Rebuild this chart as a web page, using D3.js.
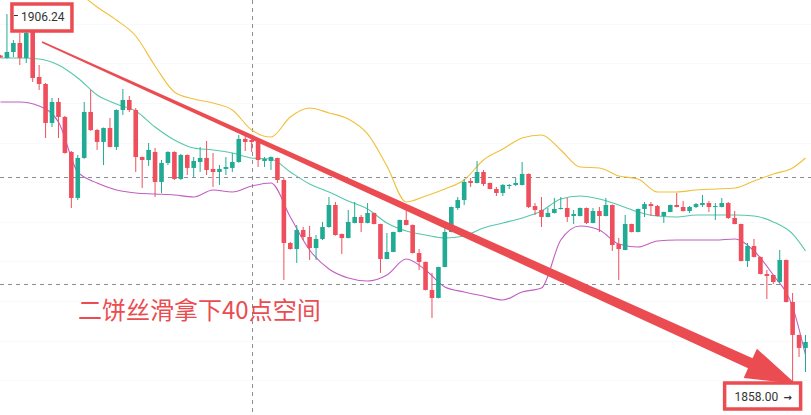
<!DOCTYPE html>
<html>
<head>
<meta charset="utf-8">
<script src="https://cdn.jsdelivr.net/npm/d3@7"></script>
<style>
  html, body { margin: 0; padding: 0; background: #fff; }
  #chart { width: 811px; height: 415px; overflow: hidden; }
</style>
</head>
<body>
<div id="chart"></div>
<script>
const width = 811;
const height = 415;

// OHLC, one entry per candle
const opens = [1901.00,1900.69,1901.44,1902.58,1900.69,1904.22,1898.29,1897.40,1892.48,1895.13,
  1893.24,1888.82,1883.01,1888.06,1893.87,1891.59,1890.08,1891.85,1889.45,1894.12,
  1895.38,1894.12,1888.18,1887.80,1888.82,1885.03,1887.43,1888.82,1885.41,1888.44,
  1886.80,1887.55,1888.06,1886.67,1886.29,1886.67,1886.80,1887.55,1890.46,1890.33,
  1890.08,1887.68,1887.68,1888.06,1885.28,1877.32,1876.56,1878.96,1878.08,1876.69,
  1877.83,1879.34,1882.12,1878.46,1877.95,1879.85,1880.61,1879.85,1881.11,1879.72,
  1875.30,1876.19,1878.71,1880.23,1879.60,1876.06,1874.93,1871.39,1870.38,1874.29,
  1878.71,1881.74,1882.75,1885.15,1884.90,1886.29,1884.90,1884.14,1883.64,1884.52,
  1884.65,1884.65,1886.04,1881.99,1881.49,1880.61,1881.11,1881.62,1881.74,1880.73,
  1880.73,1881.74,1879.85,1881.36,1880.73,1882.12,1877.19,1876.44,1879.72,1878.71,
  1881.62,1882.24,1881.99,1880.73,1881.24,1882.12,1881.87,1881.36,1881.87,1882.12,
  1882.37,1881.87,1881.87,1882.37,1880.48,1879.72,1875.05,1876.94,1875.56,1873.41,
  1873.28,1872.40,1875.18,1869.87,1865.71,1864.07];
const highs = [1901.07,1906.24,1902.96,1903.84,1905.23,1904.47,1899.80,1897.53,1895.64,1895.64,
  1893.36,1888.94,1888.44,1895.13,1896.64,1891.72,1891.90,1893.11,1894.20,1896.77,
  1895.89,1894.37,1888.25,1889.95,1889.32,1887.80,1888.90,1888.90,1888.57,1888.50,
  1888.18,1889.45,1890.21,1888.69,1887.17,1888.18,1888.69,1890.96,1890.83,1890.71,
  1890.15,1888.18,1888.25,1888.10,1885.53,1877.45,1879.60,1879.34,1879.47,1878.33,
  1879.98,1883.13,1882.50,1878.50,1881.49,1882.50,1880.86,1882.37,1881.15,1879.76,
  1878.59,1878.75,1880.27,1881.74,1879.65,1876.56,1874.98,1873.54,1874.33,1879.34,
  1881.92,1883.13,1885.41,1885.53,1887.68,1886.54,1884.95,1884.40,1884.77,1884.77,
  1885.53,1887.55,1886.10,1882.37,1883.13,1881.74,1883.01,1883.13,1883.01,1881.49,
  1881.80,1881.80,1881.74,1881.87,1883.01,1882.17,1877.95,1880.86,1879.76,1881.66,
  1882.50,1882.50,1882.12,1881.28,1882.17,1883.64,1882.63,1881.99,1882.37,1883.39,
  1882.63,1882.37,1883.01,1882.50,1881.36,1879.76,1877.32,1877.83,1875.60,1873.91,
  1873.33,1876.44,1875.22,1871.01,1865.75,1865.71];
const lows = [1900.69,1900.60,1900.81,1899.80,1900.05,1897.66,1896.64,1890.58,1891.97,1890.58,
  1888.60,1881.74,1882.75,1887.95,1891.47,1889.07,1887.17,1889.40,1889.07,1893.49,
  1893.87,1886.29,1884.27,1887.05,1883.13,1883.64,1887.17,1885.28,1885.28,1885.91,
  1885.66,1886.29,1885.91,1884.40,1884.65,1885.91,1886.29,1887.45,1888.94,1888.82,
  1886.92,1886.92,1886.54,1884.90,1872.65,1876.50,1874.80,1877.70,1875.18,1875.18,
  1877.70,1879.25,1878.25,1875.94,1877.90,1879.80,1878.71,1879.80,1879.68,1873.54,
  1875.25,1876.15,1878.66,1879.55,1876.00,1873.91,1871.33,1867.85,1870.33,1874.25,
  1878.66,1881.49,1882.12,1884.40,1884.85,1884.52,1884.10,1883.26,1883.26,1884.14,
  1884.52,1884.60,1881.74,1880.86,1879.34,1880.55,1881.05,1881.55,1879.98,1879.72,
  1880.68,1879.72,1879.80,1878.71,1880.68,1876.31,1872.65,1876.40,1878.66,1878.66,
  1880.61,1880.73,1880.68,1879.85,1881.20,1881.82,1881.30,1881.11,1881.74,1881.87,
  1881.24,1880.23,1881.82,1880.35,1879.68,1875.00,1874.29,1875.50,1873.36,1870.25,
  1872.15,1872.27,1869.82,1858.00,1862.93,1861.03];
const closes = [1900.75,1901.44,1902.58,1900.69,1903.84,1898.16,1897.40,1892.48,1895.13,1893.24,
  1888.69,1883.01,1888.06,1893.87,1891.59,1890.08,1891.85,1889.45,1894.12,1895.38,
  1894.12,1888.18,1887.80,1889.07,1885.03,1887.43,1888.82,1885.41,1888.44,1886.80,
  1887.68,1888.06,1886.54,1886.29,1886.67,1886.92,1887.55,1890.46,1890.08,1890.08,
  1887.80,1887.93,1888.18,1885.28,1877.32,1876.56,1878.96,1878.08,1876.69,1877.83,
  1879.34,1882.12,1878.33,1877.95,1879.98,1880.61,1879.85,1881.11,1879.72,1875.30,
  1876.19,1878.71,1880.23,1879.60,1876.06,1874.93,1871.39,1870.38,1874.29,1878.71,
  1881.87,1882.75,1885.03,1884.90,1886.29,1884.77,1884.14,1883.64,1884.65,1884.65,
  1884.90,1886.04,1881.87,1881.49,1880.61,1881.11,1881.62,1881.74,1880.61,1880.98,
  1881.74,1879.85,1881.36,1880.73,1882.12,1877.07,1876.56,1879.72,1878.71,1881.62,
  1882.24,1881.99,1880.73,1881.24,1882.12,1881.87,1881.36,1881.87,1882.24,1882.37,
  1881.87,1881.99,1882.37,1880.48,1879.72,1875.05,1876.94,1875.56,1873.41,1873.16,
  1872.40,1875.18,1869.87,1865.71,1864.07,1864.82];

// Bollinger bands, sampled every 3 candles
const bandIdx = [0,3,6,9,12,15,18,21,24,27,30,33,36,39,42,45,48,51,54,57,60,63,66,69,72,
  75,78,81,84,87,90,93,96,99,102,105,108,111,114,117,120,123,125];
const upperBand = [null,null,null,null,1909.02,1907.13,1905.48,1903.46,1899.68,1896.39,1895.51,1895.00,
  1894.12,1891.59,1890.71,1893.24,1894.37,1893.74,1892.98,1891.09,1887.05,1882.50,1883.26,1884.14,
  1885.28,1887.80,1889.19,1890.58,1890.96,1889.07,1886.92,1886.80,1885.78,1885.41,1883.76,1883.76,
  1884.02,1884.14,1884.27,1885.15,1886.04,1886.80,1888.06];
const middleBand = [1900.69,1900.69,1900.56,1899.80,1898.16,1896.01,1894.88,1893.99,1891.97,1890.33,
  1889.32,1889.07,1888.69,1888.06,1887.93,1886.29,1884.77,1883.76,1882.63,1881.62,1879.85,1878.84,
  1878.33,1877.95,1878.21,1879.22,1879.85,1880.48,1881.36,1882.88,1883.26,1882.88,1882.12,1881.24,
  1880.73,1880.61,1880.86,1880.86,1880.86,1880.73,1879.98,1878.46,1876.31];
const lowerBand = [1895.13,1895.13,1894.62,1892.60,1886.29,1884.90,1884.02,1883.64,1883.51,1883.39,
  1883.13,1884.02,1883.76,1884.52,1884.90,1880.61,1876.44,1874.04,1872.90,1872.52,1873.28,1875.30,
  1873.91,1871.77,1871.14,1870.63,1870.12,1871.14,1871.64,1877.70,1879.47,1878.96,1877.19,1876.82,
  1877.58,1877.70,1877.70,1877.70,1877.83,1876.31,1873.28,1869.26,1863.18];

// reference levels and annotations
const dashLevels = [1885.66, 1872.15];
const crossIdx = 39;
const highLabel = {idx: 1, price: 1906.24, text: "1906.24"};
const lowLabel = {idx: 123, price: 1858.00, text: "1858.00"};
const trendStart = {idx: 6.44, price: 1902.71};
const trendEnd = {idx: 123.5, price: 1859.52};
const noteText = "二饼丝滑拿下40点空间";

const upColor = "#22ab94";
const downColor = "#ef4f5c";
const annColor = "#eb4c51";

const data = opens.map((o, i) => ({i, o, h: highs[i], l: lows[i], c: closes[i]}));

const x = d3.scaleLinear().domain([0, 125]).range([0.5, 805.5]);
const y = d3.scaleLinear().domain([1858.00, 1906.24]).range([396, 14]);

const svg = d3.select("#chart").append("svg")
  .attr("width", width)
  .attr("height", height)
  .style("font-family", "Roboto, 'Liberation Sans', Arial, sans-serif");

svg.append("rect").attr("width", width).attr("height", height).attr("fill", "#fff");

// very faint grid
const gridTicks = d3.range(1860, 1906, 5);
svg.append("g").selectAll("line")
  .data(gridTicks)
  .join("line")
  .attr("x1", 0).attr("x2", width)
  .attr("y1", d => Math.round(y(d)) + 0.5).attr("y2", d => Math.round(y(d)) + 0.5)
  .attr("stroke", "#f8f9fa");

// dashed price lines + crosshair
svg.append("g").selectAll("line")
  .data(dashLevels)
  .join("line")
  .attr("x1", 0).attr("x2", width)
  .attr("y1", d => Math.round(y(d)) + 0.5).attr("y2", d => Math.round(y(d)) + 0.5)
  .attr("stroke", "#8a8d94")
  .attr("stroke-dasharray", "4 4");

svg.append("line")
  .attr("x1", Math.round(x(crossIdx)) + 0.5).attr("x2", Math.round(x(crossIdx)) + 0.5)
  .attr("y1", 0).attr("y2", height)
  .attr("stroke", "#8a8d94")
  .attr("stroke-dasharray", "4 4");

// bands
const band = (vals, color) => {
  const pts = bandIdx.map((b, k) => [b, vals[k]]);
  svg.append("path")
    .datum(pts)
    .attr("fill", "none")
    .attr("stroke", color)
    .attr("stroke-width", 1.1)
    .attr("d", d3.line()
      .defined(d => d[1] != null)
      .curve(d3.curveMonotoneX)
      .x(d => x(d[0])).y(d => y(d[1])));
};
band(upperBand, "#f0c03a");
band(middleBand, "#55c8aa");
band(lowerBand, "#c25ec3");

// candles
const bodyW = 4.6;
const candles = svg.append("g");
candles.selectAll("line")
  .data(data)
  .join("line")
  .attr("x1", d => x(d.i)).attr("x2", d => x(d.i))
  .attr("y1", d => y(d.h)).attr("y2", d => y(d.l))
  .attr("stroke", d => d.c >= d.o ? upColor : downColor)
  .attr("stroke-width", 1);
candles.selectAll("rect")
  .data(data)
  .join("rect")
  .attr("x", d => x(d.i) - bodyW / 2)
  .attr("y", d => y(Math.max(d.o, d.c)))
  .attr("width", bodyW)
  .attr("height", d => Math.max(1, Math.abs(y(d.o) - y(d.c))))
  .attr("fill", d => d.c >= d.o ? upColor : downColor);

// tapered trend arrow
const p0 = [x(trendStart.idx), y(trendStart.price)];
const p1 = [x(trendEnd.idx), y(trendEnd.price)];
const dx = p1[0] - p0[0], dy = p1[1] - p0[1];
const len = Math.hypot(dx, dy);
const ux = dx / len, uy = dy / len;
const nx = -uy, ny = ux;
const headLen = 50, headW = 16, w0 = 0.9, w1 = 5.5;
const hb = [p1[0] - ux * headLen, p1[1] - uy * headLen];
const arrowPts = [
  [p0[0] + nx * w0, p0[1] + ny * w0],
  [hb[0] + nx * w1, hb[1] + ny * w1],
  [hb[0] + nx * headW, hb[1] + ny * headW],
  p1,
  [hb[0] - nx * headW, hb[1] - ny * headW],
  [hb[0] - nx * w1, hb[1] - ny * w1],
  [p0[0] - nx * w0, p0[1] - ny * w0]
];
svg.append("path")
  .attr("d", d3.line()(arrowPts) + "Z")
  .attr("fill", annColor);

// high label
const hx = x(highLabel.idx), hy = y(highLabel.price);
svg.append("rect")
  .attr("x", hx + 5).attr("y", hy - 10)
  .attr("width", 60).attr("height", 27)
  .attr("fill", "#fff")
  .attr("stroke", annColor).attr("stroke-width", 3.5);
svg.append("line")
  .attr("x1", hx + 7).attr("x2", hx + 11)
  .attr("y1", hy + 1.5).attr("y2", hy + 1.5)
  .attr("stroke", "#333");
svg.append("text")
  .attr("x", hx + 14).attr("y", hy + 7)
  .attr("fill", "#333")
  .style("font-size", "12px")
  .text(highLabel.text);

// low label
const lx = x(lowLabel.idx), ly = y(lowLabel.price);
svg.append("rect")
  .attr("x", lx - 68).attr("y", ly - 13)
  .attr("width", 76).attr("height", 26)
  .attr("fill", "#fff")
  .attr("stroke", annColor).attr("stroke-width", 3.5);
svg.append("text")
  .attr("x", lx - 58).attr("y", ly + 5)
  .attr("fill", "#333")
  .style("font-size", "12px")
  .text(lowLabel.text);
svg.append("text")
  .attr("x", lx - 9).attr("y", ly + 5)
  .attr("fill", "#333")
  .style("font-family", "'DejaVu Sans', sans-serif")
  .style("font-size", "10px")
  .style("font-weight", "bold")
  .text("\u2192");

// note
svg.append("text")
  .attr("x", 78).attr("y", 319)
  .attr("fill", annColor)
  .style("font-family", "'Noto Sans CJK SC', sans-serif")
  .style("font-size", "24px")
  .text(noteText);
</script>
</body>
</html>
